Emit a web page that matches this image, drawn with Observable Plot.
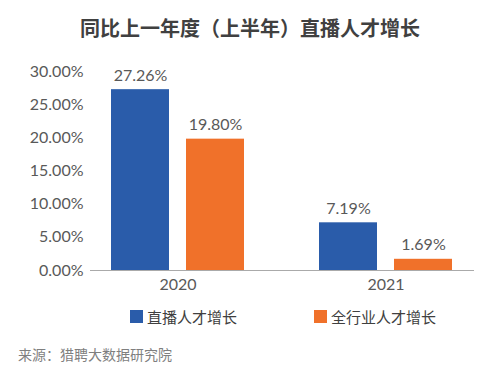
<!DOCTYPE html>
<html>
<head>
<meta charset="utf-8">
<script src="https://cdn.jsdelivr.net/npm/d3@7"></script>
<script src="https://cdn.jsdelivr.net/npm/@observablehq/plot@0.6"></script>
<style>
  body { margin: 0; background: #fff; font-family: Lato, "Noto Sans CJK SC", sans-serif; }
  #wrap { position: relative; width: 500px; height: 383px; overflow: hidden; }
  #title { position: absolute; left: 0; top: 0; width: 500px; height: 56px; line-height: 56px; text-align: center;
           font-family: "Noto Sans CJK SC", sans-serif; font-size: 20px; font-weight: bold; color: #404040; }
  #chart { position: absolute; left: 0; top: 55px; }
  .lg { position: absolute; top: 306px; height: 20px; display: flex; align-items: center;
        font-family: "Noto Sans CJK SC", sans-serif; font-size: 15px; color: #404040; }
  .lg span.sw { display: inline-block; width: 13px; height: 13px; margin-right: 4px; }
  #source { position: absolute; left: 18px; top: 344px; font-family: "Noto Sans CJK SC", sans-serif;
            font-size: 14px; color: #7f7f7f; }
</style>
</head>
<body>
<div id="wrap">
  <div id="title">同比上一年度（上半年）直播人才增长</div>
  <div id="chart"></div>
  <div id="legend"></div>
  <div id="source">来源：猎聘大数据研究院</div>
</div>
<script>
const years = ["2020", "2021"];
const series = ["直播人才增长", "全行业人才增长"];
const liveGrowth = [27.26, 7.19];
const allGrowth = [19.80, 1.69];
const colors = ["#2a5caa", "#f0712a"];
const yTicks = [0, 5, 10, 15, 20, 25, 30];

const rows = [];
years.forEach((yr, i) => {
  rows.push({year: yr, series: series[0], value: liveGrowth[i]});
  rows.push({year: yr, series: series[1], value: allGrowth[i]});
});

const font = 'Lato, "Noto Sans CJK SC", sans-serif';
const chart = Plot.plot({
  width: 500,
  height: 245,
  marginLeft: 90,
  marginRight: 22,
  marginTop: 16,
  marginBottom: 30,
  style: {fontFamily: font, fontSize: "16px", color: "#595959", background: "transparent"},
  fx: {domain: years, range: [90, 473], paddingInner: 33 / 208, paddingOuter: 0, label: null, tickSize: 0, tickPadding: 8},
  x: {domain: series, paddingInner: 17 / 75, paddingOuter: 0.28, axis: null},
  y: {domain: [0, 30], ticks: yTicks, tickFormat: d => d.toFixed(2) + "%", tickSize: 0, tickPadding: 7, label: null},
  color: {domain: series, range: colors},
  marks: [
    Plot.barY(rows, {fx: "year", x: "series", y: "value", fill: "series"}),
    Plot.text(rows, {fx: "year", x: "series", y: "value", text: d => d.value.toFixed(2) + "%", dy: -14, fill: "#595959", fontSize: 16}),
    Plot.frame({anchor: "bottom", stroke: "#aaa", strokeWidth: 1, facet: "super"})
  ]
});
document.getElementById("chart").appendChild(chart);

const legendLefts = [130, 314];
const legend = document.getElementById("legend");
series.forEach((s, i) => {
  const item = document.createElement("div");
  item.className = "lg";
  item.style.left = legendLefts[i] + "px";
  item.innerHTML = `<span class="sw" style="background:${colors[i]}"></span>${s}`;
  legend.appendChild(item);
});
</script>
</body>
</html>
